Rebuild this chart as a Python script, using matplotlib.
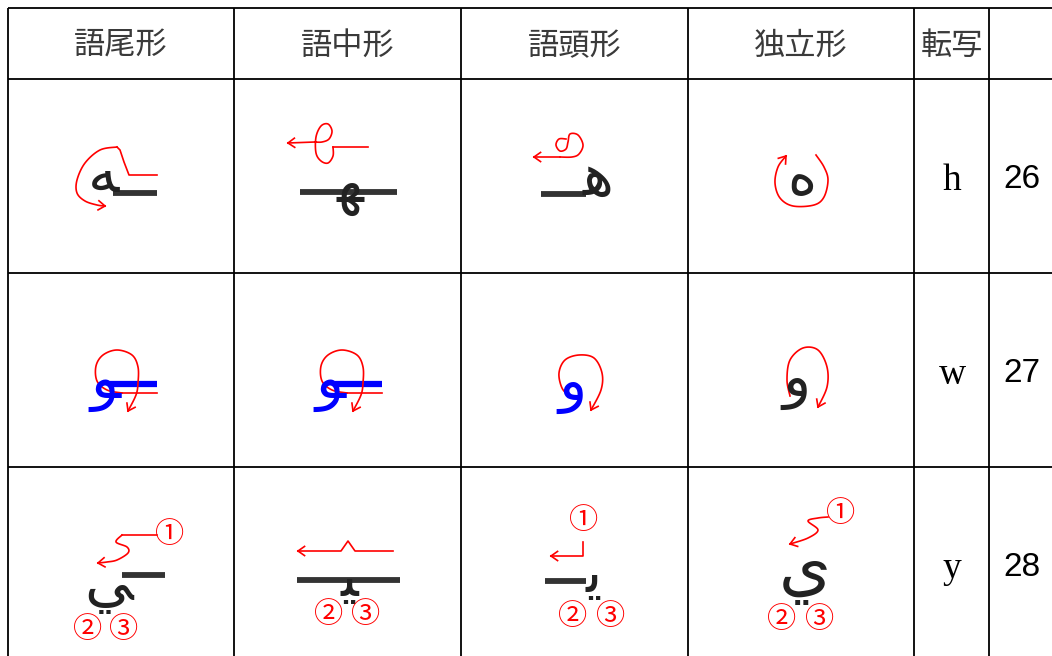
import numpy as np
import matplotlib
matplotlib.use("Agg")
import matplotlib.pyplot as plt

# ---------------- data ----------------
headers = ["語尾形", "語中形", "語頭形", "独立形", "転写", ""]
translit = ["h", "w", "y"]
numbers = ["26", "27", "28"]
# glyph text per row: final, medial, initial, isolated
glyphs = [["\uFEEA", "\uFEEC", "\uFEEB", "\u0647"],
          ["\uFEEE", "\uFEEE", "\u0648", "\u0648"],
          ["\uFEF2", "\uFEF4", "\uFEF3", "\u064A"]]
glyph_colors = [["#222222"] * 4,
                ["#0000ff", "#0000ff", "#0000ff", "#222222"],
                ["#222222"] * 4]

# table geometry (pixels)
col_edges = [8, 234, 461, 688, 914, 989]
row_edges = [8, 79, 273, 467]
W, H = 1052, 656

fig = plt.figure(figsize=(W / 100, H / 100), dpi=100)
ax = fig.add_axes([0, 0, 1, 1])
ax.set_xlim(0, W)
ax.set_ylim(H, 0)
ax.axis("off")

# grid
for x in col_edges:
    ax.plot([x, x], [row_edges[0], H + 2], color="black", lw=1.3, solid_capstyle="butt")
for y in row_edges:
    ax.plot([col_edges[0], W + 2], [y, y], color="black", lw=1.3, solid_capstyle="butt")

# headers
hx = [(col_edges[i] + col_edges[i + 1]) / 2 for i in range(5)]
for i, t in enumerate(headers[:5]):
    ax.text(hx[i], 46, t, ha="center", va="center", fontsize=22.5,
            family=["Noto Sans CJK JP", "DejaVu Sans"], color="#3a3a3a")

row_cy = [176, 370, 564]
for r in range(3):
    ax.text(952, row_cy[r] + 5, translit[r], ha="center", va="center", fontsize=27,
            family="Liberation Serif", color="black")
    ax.text(1003, row_cy[r] + 4, numbers[r], ha="left", va="center", fontsize=24,
            family="Liberation Sans", color="black")

# --------------- helpers ---------------
RED = "#ff0000"


def smooth(pts, n=10):
    P = np.array(pts, float)
    P = np.vstack([P[0], P, P[-1]])
    out = []
    for i in range(1, len(P) - 2):
        p0, p1, p2, p3 = P[i - 1], P[i], P[i + 1], P[i + 2]
        for t in np.linspace(0, 1, n, endpoint=False):
            out.append(0.5 * (2 * p1 + (-p0 + p2) * t + (2 * p0 - 5 * p1 + 4 * p2 - p3) * t ** 2
                              + (-p0 + 3 * p1 - 3 * p2 + p3) * t ** 3))
    out.append(P[-2])
    return np.array(out)


def stroke(pts, curve=True, arrow=False, color=RED, lw=1.2):
    a = smooth(pts) if curve else np.array(pts, float)
    ax.plot(a[:, 0], a[:, 1], color=color, lw=lw, solid_joinstyle="round")
    if arrow:
        p = a[-1]
        q = a[-2] if np.hypot(*(a[-1] - a[-2])) > 1e-6 else a[-3]
        d = p - q
        d = d / np.hypot(*d)
        for ang in (35, -35):
            th = np.deg2rad(ang)
            R = np.array([[np.cos(th), -np.sin(th)], [np.sin(th), np.cos(th)]])
            e = p - 8 * (R @ d)
            ax.plot([p[0], e[0]], [p[1], e[1]], color=color, lw=lw)


def circled(x, y, s):
    ax.text(x, y, s, ha="center", va="center", fontsize=21,
            family=["Noto Sans CJK JP", "DejaVu Sans"], color=RED)


def bar(x0, x1, y, color="#333333", lw=4.2):
    ax.plot([x0, x1], [y, y], color=color, lw=lw, solid_capstyle="butt")


def glyph(x, y, s, color, size=42):
    ax.text(x, y, s, ha="center", va="center", fontsize=size, family="DejaVu Sans",
            color=color, fontweight="normal")


# ---------------- row 1 : h ----------------
bar(113, 157, 193)
glyph(104, 176, glyphs[0][0], glyph_colors[0][0])
stroke([(157, 175), (129, 175), (124, 162), (120, 150), (117, 147)], curve=False)
stroke([(117, 147), (100, 150), (85, 163), (77, 180), (77, 193), (85, 201), (97, 205), (105, 206)], arrow=True)

bar(300, 397, 191.5)
glyph(350, 188, glyphs[0][1], glyph_colors[0][1])
stroke([(368, 147), (333, 147)], curve=False)
stroke([(333, 147), (333, 156), (328, 163), (321, 161), (316, 153), (316, 137), (321, 126),
        (328, 124), (332, 131), (329, 139), (322, 142), (315, 142)])
stroke([(315, 142), (288, 143)], curve=False, arrow=True)

bar(541, 586, 193.5)
glyph(598, 178, glyphs[0][2], glyph_colors[0][2])
stroke([(566, 139), (559, 139), (556, 145), (560, 151), (566, 149), (568, 142), (570, 134),
        (578, 135), (583, 145), (579, 154), (572, 157), (560, 157)])
stroke([(560, 157), (534, 157)], curve=False, arrow=True)

glyph(802, 179, glyphs[0][3], glyph_colors[0][3], size=40)
stroke([(816, 155), (824, 167), (828, 180), (824, 197), (814, 205), (793, 206), (780, 198),
        (775, 183), (778, 167), (786, 156)], arrow=True)

# ---------------- row 2 : w ----------------
for dx in (0, 225):
    bar(110 + dx, 157 + dx, 383.5, color="#0000ff", lw=4.5)
    glyph(106 + dx, 384, glyphs[1][0 if dx == 0 else 1], "#0000ff")
    stroke([(157 + dx, 393), (122 + dx, 393)], curve=False)
    stroke([(122 + dx, 393), (107 + dx, 390), (97 + dx, 381), (96 + dx, 366), (103 + dx, 355),
            (117 + dx, 350), (132 + dx, 355), (138 + dx, 367), (138 + dx, 383), (136 + dx, 395),
            (128 + dx, 411)], arrow=True)

glyph(572, 386, glyphs[1][2], glyph_colors[1][2])
stroke([(570, 397), (562, 388), (559, 373), (565, 360), (579, 355), (594, 358), (602, 373),
        (601, 390), (591, 410)], arrow=True)

glyph(796, 382, glyphs[1][3], glyph_colors[1][3])
stroke([(790, 396), (787, 380), (790, 360), (803, 348), (818, 350), (827, 367), (827, 387),
        (818, 407)], arrow=True)

# ---------------- row 3 : y ----------------
bar(122, 165, 575)
glyph(109, 586, glyphs[2][0], glyph_colors[2][0])
circled(170, 535, "①")
stroke([(157, 535), (122, 535)], curve=False)
stroke([(122, 535), (116, 542), (127, 547), (128, 553), (117, 560), (107, 562), (98, 563)], arrow=True)
circled(88, 630, "②")
circled(124, 630, "③")

bar(297, 400, 579.5)
glyph(349, 580, glyphs[2][1], glyph_colors[2][1])
stroke([(393, 551), (355, 551), (348, 541), (341, 551), (298, 551)], curve=False, arrow=True)
circled(329, 615, "②")
circled(366, 615, "③")

bar(545, 586, 581)
glyph(594, 576, glyphs[2][2], glyph_colors[2][2])
circled(584, 521, "①")
stroke([(583, 542), (583, 556), (551, 556)], curve=False, arrow=True)
circled(573, 617, "②")
circled(611, 617, "③")

glyph(805, 572, glyphs[2][3], glyph_colors[2][3], size=48)
circled(841, 514, "①")
stroke([(828, 517), (818, 518), (808, 521), (818, 530), (808, 538), (790, 544)], arrow=True)
circled(782, 620, "②")
circled(820, 620, "③")

fig.savefig("out.png", dpi=100)
